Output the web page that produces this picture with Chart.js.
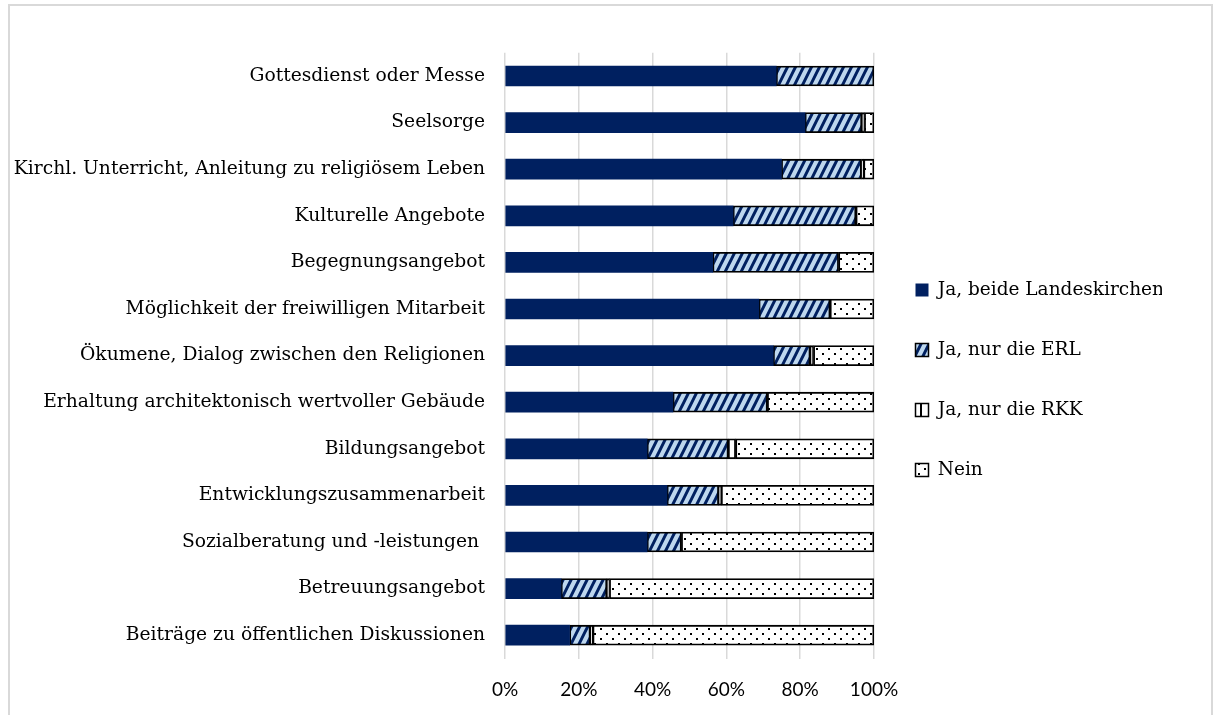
<!DOCTYPE html>
<html>
<head>
<meta charset="utf-8">
<script src="https://cdn.jsdelivr.net/npm/chart.js@4/dist/chart.umd.min.js"></script>
<style>
  html, body { margin: 0; padding: 0; background: #fff; overflow: hidden; }
  #frame {
    position: absolute; left: 8px; top: 4px; width: 1201px; height: 780px;
    border: 2px solid #d9d9d9; background: #fff;
  }
  #wrap { position: absolute; left: 0; top: 0; width: 1199px; height: 748px; }
</style>
</head>
<body>
<div id="frame"><div id="wrap"><canvas id="chart"></canvas></div></div>
<script>
const categories = [
  'Gottesdienst oder Messe',
  'Seelsorge',
  'Kirchl. Unterricht, Anleitung zu religiösem Leben',
  'Kulturelle Angebote',
  'Begegnungsangebot',
  'Möglichkeit der freiwilligen Mitarbeit',
  'Ökumene, Dialog zwischen den Religionen',
  'Erhaltung architektonisch wertvoller Gebäude',
  'Bildungsangebot',
  'Entwicklungszusammenarbeit',
  'Sozialberatung und -leistungen ',
  'Betreuungsangebot',
  'Beiträge zu öffentlichen Diskussionen'
];
const seriesNames = ['Ja, beide Landeskirchen', 'Ja, nur die ERL', 'Ja, nur die RKK', 'Nein'];
const beide = [73.5, 81.3, 74.9, 61.8, 56.3, 68.8, 72.7, 45.5, 38.5, 43.9, 38.5, 15.2, 17.5];
const nurErl = [26.5, 15.4, 21.7, 33.3, 34.1, 19.3, 10.0, 25.6, 22.0, 14.0, 9.3, 12.4, 5.6];
const nurRkk = [0, 0.7, 0.6, 0, 0, 0, 0.9, 0, 2.0, 0.7, 0, 0.7, 0.7];
const nein = [0, 2.6, 2.8, 4.9, 9.6, 11.9, 16.4, 28.9, 37.5, 41.4, 52.2, 71.7, 76.2];
const tickLabels = ['0%', '20%', '40%', '60%', '80%', '100%'];

const navy = '#002060';
const serif = '"DejaVu Serif", serif';

// hatch fills like the Excel pattern fills
function makePattern(draw, w, h) {
  const c = document.createElement('canvas');
  c.width = w; c.height = h;
  const g = c.getContext('2d');
  draw(g, w, h);
  return g.createPattern(c, 'repeat');
}
const ctx = document.getElementById('chart').getContext('2d');

const stripes = makePattern((g, w, h) => {
  g.fillStyle = '#bdd7ee';
  g.fillRect(0, 0, w, h);
  g.strokeStyle = navy;
  g.lineWidth = 3;
  g.beginPath();
  for (let k = -1; k <= 1; k++) {
    g.moveTo(k * w - 1, h + 2); g.lineTo(k * w + w + 1, -2);
  }
  g.stroke();
}, 8, 16);

const dots = makePattern((g, w, h) => {
  g.fillStyle = '#fff';
  g.fillRect(0, 0, w, h);
  g.fillStyle = '#000';
  g.fillRect(2, 2, 2, 2);
  g.fillRect(8, 7, 2, 2);
}, 12, 10);

const vbars = makePattern((g, w, h) => {
  g.fillStyle = '#fff';
  g.fillRect(0, 0, w, h);
  g.fillStyle = '#000';
  g.fillRect(0, 0, 2, h);
}, 10, 10);

new Chart(ctx, {
  type: 'bar',
  data: {
    labels: categories,
    datasets: [
      { label: seriesNames[0], data: beide, backgroundColor: navy, borderWidth: 0 },
      { label: seriesNames[1], data: nurErl, backgroundColor: stripes, borderColor: '#000', borderWidth: 1.8, borderSkipped: false },
      { label: seriesNames[2], data: nurRkk, backgroundColor: '#fff', borderColor: '#000', borderWidth: 1.8, borderSkipped: false },
      { label: seriesNames[3], data: nein, backgroundColor: dots, borderColor: '#000', borderWidth: 1.8, borderSkipped: false }
    ]
  },
  options: {
    indexAxis: 'y',
    responsive: true,
    maintainAspectRatio: false,
    animation: false,
    events: [],
    datasets: { bar: { barThickness: 20 } },
    layout: { padding: { top: 0, right: 47, left: 0, bottom: 0 } },
    scales: {
      x: {
        stacked: true,
        min: 0, max: 100,
        ticks: {
          stepSize: 20,
          padding: 20,
          color: '#000',
          font: { family: 'Lato, sans-serif', size: 19 },
          callback: (v, i) => tickLabels[i]
        },
        grid: { color: '#d9d9d9', lineWidth: 1.5, drawTicks: false },
        border: { display: false },
        afterFit: s => { s.height = 95.5; }
      },
      // empty top band, keeps the plot below the frame's blank top strip
      top: {
        type: 'linear',
        position: 'top',
        min: 0, max: 1,
        ticks: { display: false },
        grid: { display: false, drawTicks: false },
        border: { display: false },
        afterFit: s => { s.height = 46.7; }
      },
      y: {
        stacked: true,
        ticks: {
          padding: 20,
          color: '#000',
          font: { family: serif, size: 18.7 }
        },
        grid: { display: false, drawTicks: false },
        border: { display: false },
        afterFit: s => { s.width = 495; }
      }
    },
    plugins: {
      tooltip: { enabled: false },
      legend: {
        position: 'right',
        labels: {
          color: '#000',
          font: { family: serif, size: 18.5 },
          boxWidth: 13,
          boxHeight: 13,
          padding: 41.5,
          generateLabels: chart => chart.data.datasets.map((d, i) => ({
            text: d.label,
            fillStyle: i === 2 ? vbars : d.backgroundColor,
            strokeStyle: i === 0 ? navy : '#000',
            lineWidth: i === 0 ? 0 : 1.5,
            datasetIndex: i
          }))
        }
      }
    }
  }
});
</script>
</body>
</html>
